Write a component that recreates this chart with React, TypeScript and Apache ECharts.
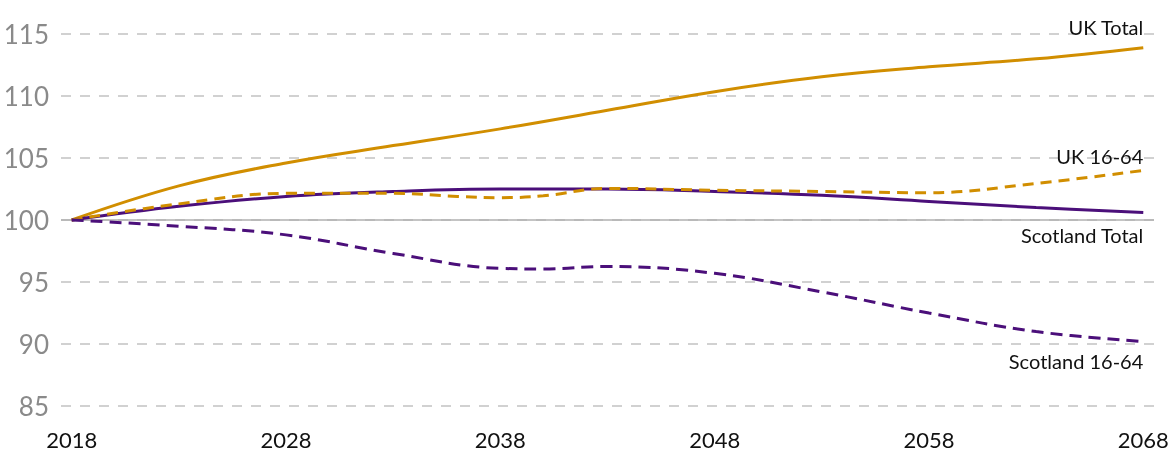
import React, { useEffect, useRef } from "react";
import * as echarts from "echarts";

const years: string[] = Array.from({ length: 51 }, (_, i) => String(2018 + i));

const ukTotalYears = [2018, 2023, 2028, 2033, 2038, 2043, 2048, 2053, 2058, 2063, 2068];
const ukTotalValues = [100, 102.75, 104.6, 106.0, 107.35, 108.85, 110.35, 111.55, 112.35, 113.0, 113.9];

const scotTotalYears = [2018, 2023, 2028, 2033, 2038, 2043, 2048, 2053, 2058, 2063, 2068];
const scotTotalValues = [100, 101.1, 101.9, 102.3, 102.5, 102.5, 102.3, 102.0, 101.5, 101.0, 100.6];

const uk1664Years = [2018, 2023, 2028, 2033, 2036, 2038, 2040, 2043, 2048, 2053, 2058, 2063, 2068];
const uk1664Values = [100, 101.3, 102.15, 102.15, 101.9, 101.8, 101.95, 102.55, 102.4, 102.3, 102.2, 102.95, 104.0];

const scot1664Years = [2018, 2023, 2028, 2033, 2038, 2040, 2043, 2048, 2053, 2058, 2063, 2068];
const scot1664Values = [100, 99.5, 98.8, 97.3, 96.1, 96.05, 96.25, 95.7, 94.2, 92.5, 91.0, 90.2];

const GOLD = "#D18E00";
const PURPLE = "#4B0F7A";
const FONT = "Lato, 'Noto Sans', sans-serif";

const pairs = (xs: number[], vs: number[]) => xs.map((x, i) => [String(x), vs[i]]);

export default function App() {
  const ref = useRef<HTMLDivElement>(null);
  useEffect(() => {
    if (!ref.current) return;
    const chart = echarts.init(ref.current, undefined, { renderer: "svg" });
    const endLabel = (dy: number) => ({
      show: true,
      formatter: "{a}",
      distance: 0,
      align: "right",
      verticalAlign: "middle",
      offset: [0, dy],
      color: "#111",
      fontSize: 20,
      fontFamily: FONT,
    });
    chart.setOption({
      animation: false,
      grid: { left: 61, right: 19, top: 34, bottom: 46, containLabel: false },
      xAxis: {
        type: "category",
        data: years,
        boundaryGap: true,
        axisLine: { show: false },
        axisTick: { show: false },
        splitLine: { show: false },
        axisLabel: {
          interval: 9,
          color: "#111",
          fontSize: 22,
          lineHeight: 22,
          fontFamily: FONT,
          margin: 22,
        },
      },
      yAxis: {
        type: "value",
        min: 85,
        max: 115,
        interval: 5,
        axisLine: { show: false },
        axisTick: { show: false },
        axisLabel: {
          color: "#8a8a8a",
          fontSize: 26,
          fontFamily: FONT,
          margin: 12,
        },
        splitLine: {
          lineStyle: { color: "#c2c2c2", width: 1.5, type: [10, 9] },
        },
      },
      series: [
        {
          name: "UK Total",
          type: "line",
          data: pairs(ukTotalYears, ukTotalValues),
          smooth: 0.4,
          showSymbol: false,
          lineStyle: { color: GOLD, width: 3 },
          itemStyle: { color: GOLD },
          endLabel: endLabel(-21),
          markLine: {
            silent: true,
            symbol: "none",
            label: { show: false },
            lineStyle: { color: "#b0b0b0", width: 1.5, type: "solid" },
            data: [{ yAxis: 100 }],
            z: 1,
          },
          z: 3,
        },
        {
          name: "Scotland Total",
          type: "line",
          data: pairs(scotTotalYears, scotTotalValues),
          smooth: 0.4,
          showSymbol: false,
          lineStyle: { color: PURPLE, width: 3 },
          itemStyle: { color: PURPLE },
          endLabel: endLabel(22),
          z: 3,
        },
        {
          name: "UK 16-64",
          type: "line",
          data: pairs(uk1664Years, uk1664Values),
          smooth: 0.4,
          showSymbol: false,
          lineStyle: { color: GOLD, width: 3, type: [11, 7] },
          itemStyle: { color: GOLD },
          endLabel: endLabel(-14),
          z: 4,
        },
        {
          name: "Scotland 16-64",
          type: "line",
          data: pairs(scot1664Years, scot1664Values),
          smooth: 0.4,
          showSymbol: false,
          lineStyle: { color: PURPLE, width: 3, type: [12, 7] },
          itemStyle: { color: PURPLE },
          endLabel: endLabel(19),
          z: 4,
        },
      ],
    });
    return () => chart.dispose();
  }, []);
  return (
    <div
      ref={ref}
      style={{ position: "fixed", left: 0, top: 0, width: 1173, height: 452 }}
    />
  );
}
